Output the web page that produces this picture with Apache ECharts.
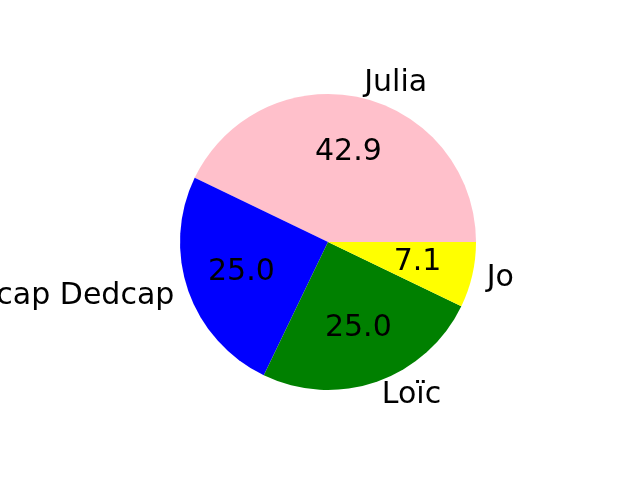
<!DOCTYPE html>
<html><head><meta charset="utf-8">
<script src="https://cdn.jsdelivr.net/npm/echarts@6/dist/echarts.min.js"></script>
<style>html,body{margin:0;padding:0;background:#fff}#c{width:640px;height:480px}</style>
</head><body><div id="c"></div>
<script>
const labels = ['Julia', 'Dedcap Dedcap', 'Loïc', 'Jo'];
const values = [6, 3.5, 3.5, 1];
const colors = ['#FFC0CB', '#0000FF', '#008000', '#FFFF00'];

const total = values.reduce((a, b) => a + b, 0);
const R = 148;
const FS = 30;
const data = labels.map((n, i) => ({ name: n, value: values[i], itemStyle: { color: colors[i] } }));

const chart = echarts.init(document.getElementById('c'), null, { renderer: 'canvas' });
chart.setOption({
  animation: false,
  series: [
    {
      type: 'pie', center: [328, 242], radius: [0, R],
      startAngle: 0, clockwise: false, avoidLabelOverlap: false,
      data: data,
      itemStyle: { borderWidth: 0 },
      label: { show: true, position: 'outside', formatter: '{b}', distanceToLabelLine: 0,
        fontFamily: 'DejaVu Sans', fontSize: FS, color: '#000', overflow: 'none', width: 400 },
      labelLine: { show: false, length: R * 0.1, length2: 0 },
      emphasis: { disabled: true }
    },
    {
      type: 'pie', center: [328, 242], radius: [0, R * 1.2],
      startAngle: 0, clockwise: false, avoidLabelOverlap: false, silent: true,
      data: labels.map((n, i) => ({ name: n, value: values[i] })),
      itemStyle: { color: 'rgba(0,0,0,0)', borderWidth: 0 },
      label: { show: true, position: 'inside', opacity: 1,
        formatter: p => (p.value / total * 100).toFixed(1),
        fontFamily: 'DejaVu Sans', fontSize: FS, color: '#000' },
      labelLine: { show: false },
      emphasis: { disabled: true }
    }
  ]
});
</script></body></html>
